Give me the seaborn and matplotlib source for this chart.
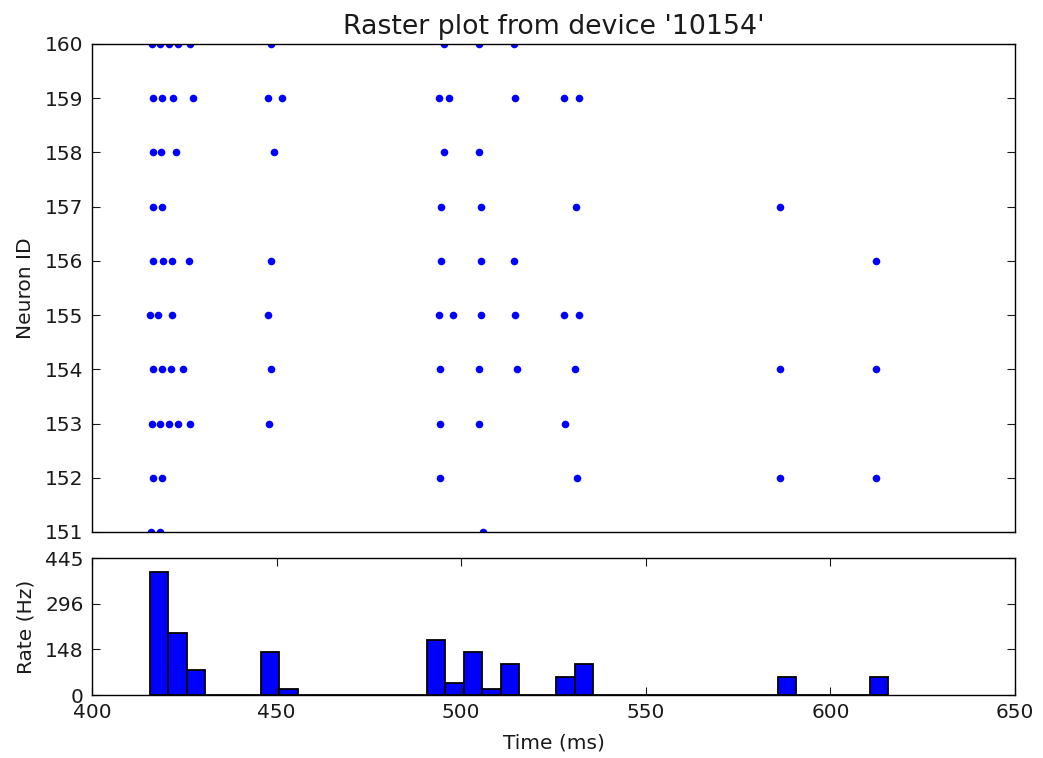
import numpy as np
import pandas as pd
import matplotlib
matplotlib.use("Agg")
import matplotlib.pyplot as plt
import seaborn as sns

spikes_160 = [416.2, 418.4, 420.9, 423.4, 426.6, 448.4, 495.4, 504.9, 514.2]
spikes_159 = [416.4, 419.0, 422.0, 427.3, 447.8, 451.5, 494.0, 496.8, 514.6, 527.9, 532.0]
spikes_158 = [416.4, 418.7, 422.8, 449.3, 495.4, 504.9]
spikes_157 = [416.4, 419.0, 494.5, 505.3, 531.0, 586.4]
spikes_156 = [416.4, 419.3, 421.8, 426.4, 448.4, 494.5, 505.3, 514.2, 612.4]
spikes_155 = [415.7, 418.0, 421.8, 447.8, 494.0, 497.9, 505.3, 514.5, 527.9, 532.0]
spikes_154 = [416.4, 419.0, 421.4, 424.7, 448.4, 494.3, 504.9, 515.0, 530.9, 586.4, 612.4]
spikes_153 = [416.2, 418.4, 420.9, 423.4, 426.6, 448.0, 494.3, 504.9, 528.2]
spikes_152 = [416.4, 419.0, 494.3, 531.3, 586.4, 612.4]
spikes_151 = [415.9, 418.4, 506.0]

neuron_ids = [160, 159, 158, 157, 156, 155, 154, 153, 152, 151]
spike_lists = [spikes_160, spikes_159, spikes_158, spikes_157, spikes_156,
               spikes_155, spikes_154, spikes_153, spikes_152, spikes_151]

hist_binwidth = 5.0
time_ticks = [400, 450, 500, 550, 600, 650]

rows = []
for nid, sp in zip(neuron_ids, spike_lists):
    for t in sp:
        rows.append((t, nid))
df = pd.DataFrame(rows, columns=["time", "sender"])

num_neurons = df.sender.nunique()
t_min, t_max = df.time.min(), df.time.max()
edges = np.arange(t_min, t_max + hist_binwidth, hist_binwidth)
n, _ = np.histogram(df.time, bins=edges)
# rate in Hz
heights = 1000.0 * n / (hist_binwidth * num_neurons)
rate_max = int(heights.max() * 1.1) + 5

plt.rcParams.update({
    "font.family": ["DejaVu Sans"],
    "font.size": 14.5,
    "xtick.direction": "in",
    "ytick.direction": "in",
    "xtick.top": True,
    "ytick.right": True,
    "xtick.major.size": 6,
    "ytick.major.size": 6,
    "xtick.major.pad": 6,
    "ytick.major.pad": 6,
    "axes.linewidth": 1.0,
    "axes.edgecolor": "black",
    "text.color": "#1a1a1a",
    "axes.labelcolor": "#1a1a1a",
    "xtick.color": "#1a1a1a",
    "ytick.color": "#1a1a1a",
})

fig = plt.figure(figsize=(10.43, 7.58), dpi=100)
ax1 = fig.add_axes([0.0882, 0.2982, 0.885, 0.6438])
ax2 = fig.add_axes([0.0882, 0.0831, 0.885, 0.1807])

# raster
sns.scatterplot(data=df, x="time", y="sender", ax=ax1, color="blue",
                s=30, linewidth=0, legend=False)
ax1.set_xlim(time_ticks[0], time_ticks[-1])
ax1.set_ylim(min(neuron_ids), max(neuron_ids))
ax1.set_yticks(sorted(neuron_ids))
ax1.set_xticks([])
ax1.set_xlabel("")
ax1.set_ylabel("Neuron ID", labelpad=7)
ax1.set_title("Raster plot from device '10154'", fontsize=19.3, pad=7)

# rate histogram
ax2.bar(edges[:-1], heights, width=hist_binwidth, align="edge",
        color="blue", edgecolor="black", linewidth=1.3)
ax2.set_xlim(time_ticks[0], time_ticks[-1])
ax2.set_xticks(time_ticks)
ax2.set_ylim(0, rate_max)
ax2.set_yticks([int(v) for v in np.linspace(0, rate_max, 4)])
ax2.set_ylabel("Rate (Hz)", labelpad=7)
ax2.set_xlabel("Time (ms)", labelpad=8)

fig.align_ylabels([ax1, ax2])
fig.savefig("out.png", dpi=100)
